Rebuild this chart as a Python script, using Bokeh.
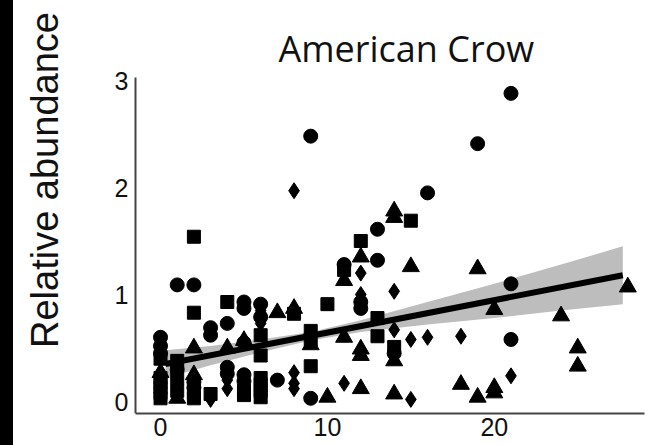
from bokeh.plotting import figure
from bokeh.models import Range1d, FixedTicker, Div, Label
from bokeh.layouts import row
from bokeh.embed import file_html
from bokeh.resources import INLINE

# ---- data ----
circle_x = [0, 0, 0, 1, 2, 3, 3, 4, 4, 4, 5, 5, 5, 5, 5, 6, 6, 7, 9, 9, 11, 12, 12, 13, 13, 14, 16, 19, 21, 21, 21, 2, 2, 1]
circle_y = [0.60, 0.52, 0.45, 1.09, 1.09, 0.69, 0.62, 0.73, 0.32, 0.26, 0.93, 0.87, 0.55, 0.25, 0.19, 0.91, 0.79, 0.20, 2.48, 0.03, 1.28, 0.93, 0.87, 1.61, 1.32, 0.45, 1.95, 2.41, 2.88, 1.10, 0.58, 0.18, 0.13, 0.30]

square_x = [0, 0, 0, 0, 0, 0, 1, 1, 2, 2, 2, 2, 3, 4, 5, 5, 6, 6, 6, 6, 6, 6, 8, 9, 9, 9, 10, 11, 12, 13, 13, 14, 15, 1]
square_y = [0.03, 0.08, 0.13, 0.18, 0.22, 0.40, 0.10, 0.22, 1.54, 0.83, 0.03, 0.08, 0.07, 0.93, 0.10, 0.06, 0.62, 0.43, 0.22, 0.16, 0.10, 0.04, 0.82, 0.66, 0.58, 0.33, 0.91, 1.23, 1.50, 0.78, 0.61, 0.51, 1.69, 0.38]

triangle_x = [0, 1, 2, 2, 4, 7, 8, 9, 10, 11, 11, 12, 12, 12, 12, 14, 14, 14, 14, 15, 18, 19, 19, 20, 20, 20, 24, 25, 25, 28, 5]
triangle_y = [0.27, 0.03, 0.50, 0.25, 0.50, 0.83, 0.87, 0.53, 0.04, 1.13, 0.60, 1.35, 0.49, 0.43, 0.12, 1.78, 1.72, 0.38, 0.07, 1.26, 0.16, 1.24, 0.04, 0.86, 0.13, 0.08, 0.80, 0.50, 0.33, 1.07, 0.57]

diamond_x = [1, 1, 2, 3, 4, 4, 6, 6, 8, 8, 8, 8, 11, 12, 12, 14, 14, 15, 15, 16, 18, 21]
diamond_y = [0.17, 0.12, 0.20, 0.02, 0.12, 0.20, 0.85, 0.73, 1.97, 0.27, 0.17, 0.12, 0.17, 1.20, 1.00, 1.03, 0.67, 0.58, 0.02, 0.60, 0.61, 0.24]

fit_x = [0.3, 27.7]
fit_y = [0.35, 1.18]

band_x = [0.3, 3, 6, 9, 12, 16, 20, 24, 27.7]
band_lo = [0.22, 0.34, 0.46, 0.57, 0.65, 0.72, 0.78, 0.85, 0.91]
band_hi = [0.48, 0.52, 0.58, 0.65, 0.76, 0.93, 1.10, 1.28, 1.45]

x_ticks = [0, 10, 20]
y_ticks = [0, 1, 2, 3]

title_text = "American Crow"
y_label_text = "Relative abundance"

# ---- figure ----
# the frame fills the left and top margins so that the titles can live inside it;
# the y axis is pinned at x = -1.5 and both axes are bounded to the data panel
p = figure(width=651, height=445, output_backend="svg", toolbar_location=None,
           x_range=Range1d(-8.81, 29.0), y_range=Range1d(-0.112, 3.748),
           min_border_left=0, min_border_right=20, min_border_top=0, min_border_bottom=32)
p.outline_line_color = None
p.xgrid.visible = False
p.ygrid.visible = False
p.background_fill_color = "white"
p.border_fill_color = "white"

for ax in (p.xaxis[0], p.yaxis[0]):
    ax.axis_line_color = "#444444"
    ax.axis_line_width = 2
    ax.major_tick_line_color = None
    ax.minor_tick_line_color = None
    ax.major_tick_out = 0
    ax.major_tick_in = 0
    ax.major_label_text_font = "Liberation Sans"
    ax.major_label_text_font_size = "25px"
    ax.major_label_text_color = "#111111"

p.xaxis[0].ticker = FixedTicker(ticks=x_ticks)
p.yaxis[0].ticker = FixedTicker(ticks=y_ticks)
p.xaxis[0].major_label_standoff = 4
p.yaxis[0].major_label_standoff = 7
p.yaxis[0].fixed_location = -1.5
p.yaxis[0].bounds = (-0.112, 3.03)
p.xaxis[0].bounds = (-1.5, 29.0)

p.varea(x=band_x, y1=band_lo, y2=band_hi, fill_color="#bdbdbd", fill_alpha=1.0)
p.line(fit_x, fit_y, line_color="black", line_width=6)

p.scatter(circle_x, circle_y, marker="circle", size=14, color="black")
p.scatter(square_x, square_y, marker="square", size=13, color="black")
p.scatter(triangle_x, triangle_y, marker="triangle", size=17, color="black")
p.scatter(diamond_x, diamond_y, marker="diamond", size=16, color="black")

title = Label(x=7.07, y=3.30, text=title_text, text_align="left",
              text_baseline="alphabetic", text_font="Open Sans",
              text_font_size="36px", text_color="#111111")
p.add_layout(title)

ylab = Label(x=-6.9, y=2.07, text=y_label_text, angle=90, angle_units="deg",
             text_align="center", text_baseline="middle",
             text_font="Liberation Sans", text_font_size="38px", text_color="#111111")
p.add_layout(ylab)

strip = Div(text="", width=13, height=445, margin=0, styles={"background-color": "black"})
layout = row(strip, p, spacing=0)

open("out.html", "w").write(file_html(layout, INLINE))
